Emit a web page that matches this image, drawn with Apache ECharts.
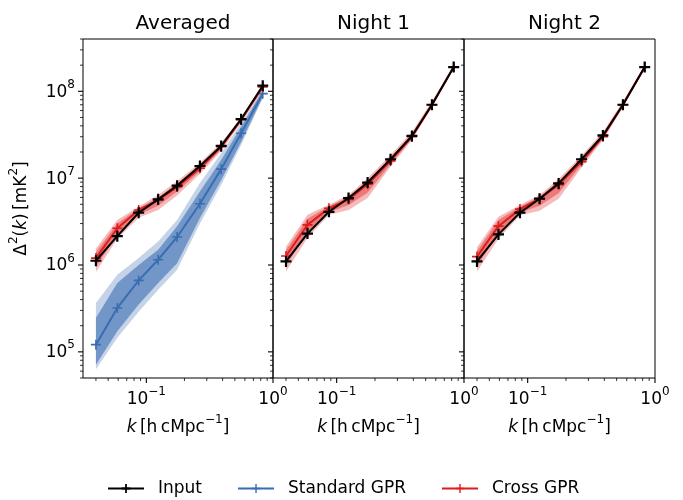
<!DOCTYPE html>
<html>
<head>
<meta charset="utf-8">
<script src="https://cdn.jsdelivr.net/npm/echarts@6/dist/echarts.min.js"></script>
<style>
  html, body { margin: 0; padding: 0; background: #fff; }
  #chart { width: 683px; height: 500px; }
</style>
</head>
<body>
<div id="chart"></div>
<script>
// k bins (h cMpc^-1)
const K = [0.04, 0.059, 0.087, 0.124, 0.175, 0.265, 0.39, 0.56, 0.83];

// Averaged
const inputAvg = [1.12e6, 2.15e6, 4.0e6, 5.7e6, 8.2e6, 1.38e7, 2.35e7, 4.77e7, 1.16e8];
const stdAvg = [1.21e5, 3.2e5, 6.65e5, 1.15e6, 2.1e6, 5.07e6, 1.27e7, 3.29e7, 9.4e7];
const stdAvgLo2 = [6.3e4, 1.45e5, 2.9e5, 5.2e5, 8.8e5, 3.0e6, 8.4e6, 2.4e7, 8.3e7];
const stdAvgHi2 = [3.66e5, 7.7e5, 1.2e6, 1.86e6, 3.3e6, 8.8e6, 1.94e7, 4.3e7, 1.05e8];
const stdAvgLo1 = [7.1e4, 1.73e5, 3.5e5, 6.2e5, 1.05e6, 3.47e6, 9.5e6, 2.6e7, 8.6e7];
const stdAvgHi1 = [2.46e5, 6.2e5, 1.0e6, 1.5e6, 2.8e6, 7.0e6, 1.62e7, 3.9e7, 1.02e8];
const crossAvg = [1.2e6, 2.65e6, 4.3e6, 5.6e6, 7.9e6, 1.3e7, 2.3e7, 4.7e7, 1.12e8];
const crossAvgLo2 = [8.3e5, 2.0e6, 3.5e6, 4.3e6, 6.3e6, 1.12e7, 2.05e7, 4.35e7, 1.04e8];
const crossAvgHi2 = [1.55e6, 3.3e6, 4.7e6, 6.4e6, 9.2e6, 1.5e7, 2.55e7, 5.0e7, 1.2e8];
const crossAvgLo1 = [9.5e5, 2.25e6, 3.8e6, 4.8e6, 7.0e6, 1.2e7, 2.15e7, 4.5e7, 1.07e8];
const crossAvgHi1 = [1.4e6, 3.0e6, 4.5e6, 6.0e6, 8.7e6, 1.42e7, 2.45e7, 4.9e7, 1.17e8];

// Night 1
const inputN1 = [1.1e6, 2.3e6, 4.1e6, 5.9e6, 8.9e6, 1.65e7, 3.06e7, 7.0e7, 1.9e8];
const crossN1 = [1.27e6, 2.9e6, 4.5e6, 5.7e6, 8.5e6, 1.58e7, 3.0e7, 7.0e7, 1.9e8];
const crossN1Lo2 = [8.4e5, 2.04e6, 3.8e6, 4.3e6, 5.9e6, 1.36e7, 2.75e7, 6.5e7, 1.8e8];
const crossN1Hi2 = [1.62e6, 3.8e6, 4.95e6, 6.4e6, 1.0e7, 1.85e7, 3.4e7, 7.7e7, 2.0e8];
const crossN1Lo1 = [9.8e5, 2.4e6, 4.05e6, 4.9e6, 6.8e6, 1.45e7, 2.85e7, 6.7e7, 1.84e8];
const crossN1Hi1 = [1.48e6, 3.4e6, 4.75e6, 6.1e6, 9.4e6, 1.72e7, 3.25e7, 7.4e7, 1.96e8];

// Night 2
const inputN2 = [1.1e6, 2.25e6, 4.0e6, 5.8e6, 8.7e6, 1.65e7, 3.1e7, 7.0e7, 1.9e8];
const crossN2 = [1.25e6, 2.8e6, 4.4e6, 5.8e6, 8.4e6, 1.55e7, 3.0e7, 7.0e7, 1.9e8];
const crossN2Lo2 = [8.4e5, 2.0e6, 3.75e6, 4.2e6, 5.8e6, 1.33e7, 2.75e7, 6.5e7, 1.8e8];
const crossN2Hi2 = [1.6e6, 3.6e6, 4.9e6, 6.4e6, 9.8e6, 1.82e7, 3.4e7, 7.7e7, 2.0e8];
const crossN2Lo1 = [9.6e5, 2.3e6, 4.0e6, 4.8e6, 6.7e6, 1.43e7, 2.85e7, 6.7e7, 1.84e8];
const crossN2Hi1 = [1.45e6, 3.3e6, 4.7e6, 6.1e6, 9.2e6, 1.7e7, 3.25e7, 7.4e7, 1.96e8];

const titles = ['Averaged', 'Night 1', 'Night 2'];
const legendNames = ['Input', 'Standard GPR', 'Cross GPR'];

// axis ranges
const X_MIN = Math.pow(10, -1.5);
const X_MAX = 1;
const Y_MIN = 5e4;
const Y_MAX = 4e8;
const X_DECADES = [-2, -1, 0];
const Y_DECADES = [4, 5, 6, 7, 8];
const MULTS = [1, 2, 3, 4, 5, 6, 7, 8, 9];

const FONT = 'DejaVu Sans';
const BLACK = '#000000';
const BLUE = '#3a6db0';
const RED = '#dd1c1c';

const PLUS_BOLD = 'path://M4,0H6V4H10V6H6V10H4V6H0V4H4Z';
const PLUS = 'path://M4.2,0H5.8V4.2H10V5.8H5.8V10H4.2V5.8H0V4.2H4.2Z';

const grids = [
  { left: 83, top: 39, width: 190, height: 339 },
  { left: 273, top: 39, width: 191, height: 339 },
  { left: 464, top: 39, width: 191, height: 339 },
];

const RICH = {
  n: { fontSize: 17, fontFamily: FONT, color: BLACK, padding: [5, 0, 3, 0], verticalAlign: 'middle' },
  it: { fontSize: 17, fontFamily: FONT, color: BLACK, fontStyle: 'italic', padding: [5, 0, 3, 0], verticalAlign: 'middle' },
  sup: { fontSize: 12, fontFamily: FONT, color: BLACK, verticalAlign: 'top' },
};

function powLabel(v) {
  const e = Math.log10(v);
  if (Math.abs(e - Math.round(e)) > 1e-6) return '';
  const r = Math.round(e);
  return '{n|10}{sup|' + (r < 0 ? '\u2212' + -r : r) + '}';
}

function tickList(decades, lo, hi) {
  const out = [];
  decades.forEach((d) => {
    MULTS.forEach((m) => {
      const v = m * Math.pow(10, d);
      if (v >= lo * 0.9999 && v <= hi * 1.0001) out.push({ v: v, major: m === 1 });
    });
  });
  return out;
}
const xTicks = tickList(X_DECADES, X_MIN, X_MAX);
const yTicks = tickList(Y_DECADES, Y_MIN, Y_MAX);

// ticks (major + minor) drawn outward on left and bottom spines
function tickSeries(gi) {
  return {
    type: 'custom',
    xAxisIndex: gi,
    yAxisIndex: gi,
    silent: true,
    clip: false,
    z: 10,
    data: [[X_MIN, Y_MIN]],
    renderItem: function (params, api) {
      const kids = [];
      xTicks.forEach((t) => {
        const p = api.coord([t.v, Y_MIN]);
        const len = t.major ? 5 : 3;
        kids.push({ type: 'line', shape: { x1: p[0], y1: p[1], x2: p[0], y2: p[1] + len }, style: { stroke: BLACK, lineWidth: t.major ? 1.1 : 0.8 } });
      });
      yTicks.forEach((t) => {
        const p = api.coord([X_MIN, t.v]);
        const len = t.major ? 5 : 3;
        kids.push({ type: 'line', shape: { x1: p[0], y1: p[1], x2: p[0] - len, y2: p[1] }, style: { stroke: BLACK, lineWidth: t.major ? 1.1 : 0.8 } });
      });
      return { type: 'group', children: kids };
    },
  };
}

// shaded band between lo and hi
function bandSeries(gi, lo, hi, fill, z) {
  return {
    type: 'custom',
    xAxisIndex: gi,
    yAxisIndex: gi,
    silent: true,
    z: z,
    data: [[K[0], lo[0]]],
    renderItem: function (params, api) {
      const pts = [];
      for (let i = 0; i < K.length; i++) pts.push(api.coord([K[i], hi[i]]));
      for (let i = K.length - 1; i >= 0; i--) pts.push(api.coord([K[i], lo[i]]));
      return { type: 'polygon', shape: { points: pts }, style: { fill: fill } };
    },
  };
}

function lineSeries(gi, name, vals, color, symbol, size, z) {
  return {
    type: 'line',
    name: name,
    xAxisIndex: gi,
    yAxisIndex: gi,
    data: K.map((k, i) => [k, vals[i]]),
    symbol: symbol,
    symbolSize: size,
    showAllSymbol: true,
    lineStyle: { color: color, width: 2 },
    itemStyle: { color: color },
    z: z,
  };
}

const series = [];
// Averaged
series.push(bandSeries(0, stdAvgLo2, stdAvgHi2, 'rgba(58,109,176,0.30)', 1));
series.push(bandSeries(0, stdAvgLo1, stdAvgHi1, 'rgba(58,109,176,0.60)', 2));
series.push(bandSeries(0, crossAvgLo2, crossAvgHi2, 'rgba(221,28,28,0.30)', 3));
series.push(bandSeries(0, crossAvgLo1, crossAvgHi1, 'rgba(221,28,28,0.40)', 4));
series.push(lineSeries(0, 'Standard GPR', stdAvg, BLUE, PLUS, 10, 5));
series.push(lineSeries(0, 'Cross GPR', crossAvg, RED, PLUS, 10, 6));
series.push(lineSeries(0, 'Input', inputAvg, BLACK, PLUS_BOLD, 11, 7));
// Night 1
series.push(bandSeries(1, crossN1Lo2, crossN1Hi2, 'rgba(221,28,28,0.30)', 3));
series.push(bandSeries(1, crossN1Lo1, crossN1Hi1, 'rgba(221,28,28,0.40)', 4));
series.push(lineSeries(1, 'Cross GPR', crossN1, RED, PLUS, 10, 6));
series.push(lineSeries(1, 'Input', inputN1, BLACK, PLUS_BOLD, 11, 7));
// Night 2
series.push(bandSeries(2, crossN2Lo2, crossN2Hi2, 'rgba(221,28,28,0.30)', 3));
series.push(bandSeries(2, crossN2Lo1, crossN2Hi1, 'rgba(221,28,28,0.40)', 4));
series.push(lineSeries(2, 'Cross GPR', crossN2, RED, PLUS, 10, 6));
series.push(lineSeries(2, 'Input', inputN2, BLACK, PLUS_BOLD, 11, 7));
[0, 1, 2].forEach((gi) => series.push(tickSeries(gi)));

const option = {
  animation: false,
  textStyle: { fontFamily: FONT, color: BLACK },
  title: titles.map((t, i) => ({
    text: t,
    left: grids[i].left + grids[i].width / 2,
    top: 9,
    textAlign: 'center',
    textStyle: { fontSize: 20, fontWeight: 'normal', fontFamily: FONT, color: BLACK },
  })),
  legend: {
    data: legendNames,
    left: 107,
    top: 480,
    padding: 0,
    itemWidth: 36,
    itemHeight: 11,
    itemGap: 35,
    textStyle: { fontSize: 17, fontFamily: FONT, color: BLACK, padding: [0, 0, 0, 9] },
  },
  grid: grids.map((g) => ({ left: g.left, top: g.top, width: g.width, height: g.height, show: true, borderColor: BLACK, borderWidth: 1, backgroundColor: 'transparent' })),
  xAxis: grids.map((g, i) => ({
    type: 'log',
    gridIndex: i,
    min: X_MIN,
    max: X_MAX,
    axisLine: { show: false },
    axisTick: { show: false },
    splitLine: { show: false },
    axisLabel: { showMinLabel: false, margin: 8, formatter: powLabel, rich: RICH },
    name: '{it|k}{n|\u2009[h\u2009cMpc}{sup|\u22121}{n|]}',
    nameLocation: 'middle',
    nameGap: 36,
    nameTextStyle: { rich: RICH },
  })),
  yAxis: grids.map((g, i) => ({
    type: 'log',
    gridIndex: i,
    min: Y_MIN,
    max: Y_MAX,
    axisLine: { show: false },
    axisTick: { show: false },
    splitLine: { show: false },
    axisLabel: { show: i === 0, showMinLabel: false, showMaxLabel: false, margin: 8, formatter: powLabel, rich: RICH },
    name: i === 0 ? '{n|\u0394}{sup|2}{n|(}{it|k}{n|)\u2009[mK}{sup|2}{n|]}' : '',
    nameLocation: 'middle',
    nameRotate: 90,
    nameGap: 50,
    nameTextStyle: { rich: RICH },
  })),
  series: series,
};

const myChart = echarts.init(document.getElementById('chart'), null, { renderer: 'canvas' });
myChart.setOption(option);
</script>
</body>
</html>
